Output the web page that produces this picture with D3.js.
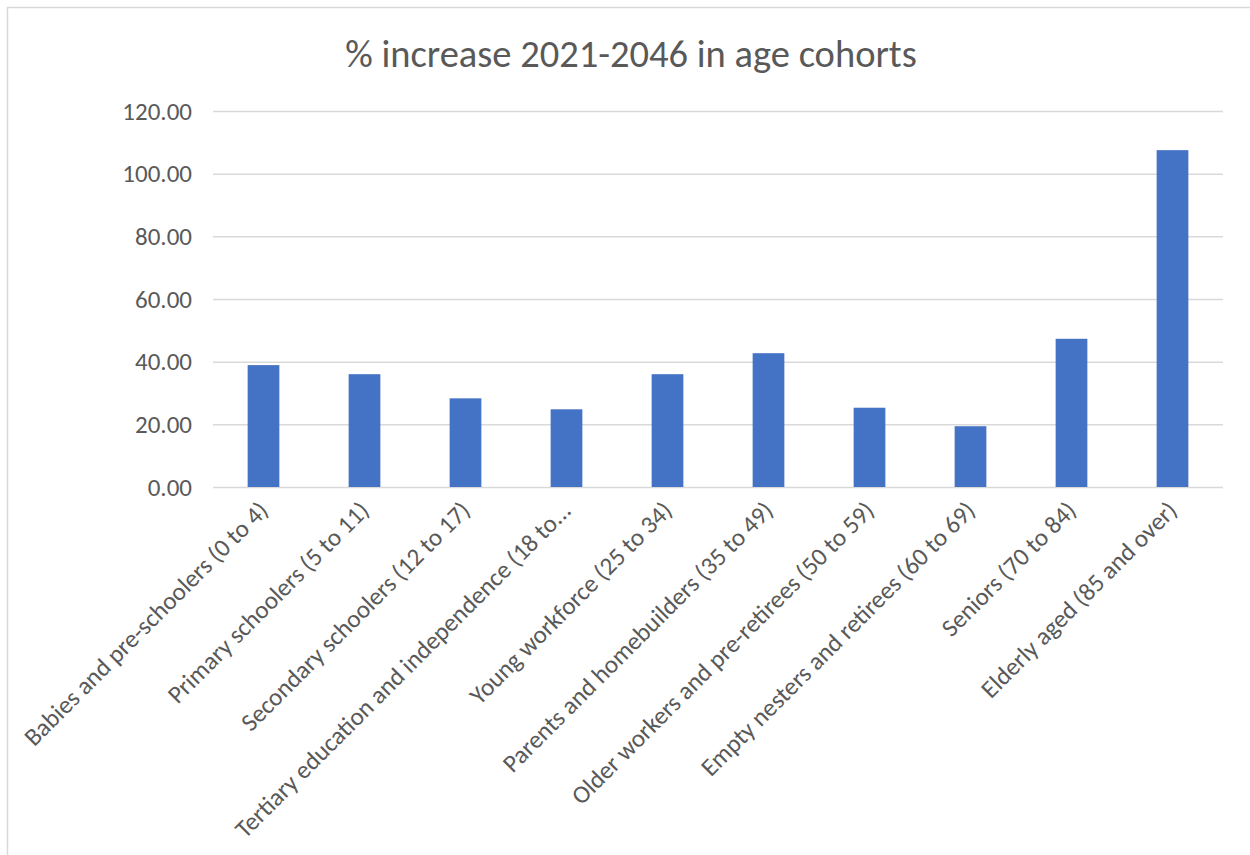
<!DOCTYPE html>
<html>
<head>
<meta charset="utf-8">
<script src="https://cdn.jsdelivr.net/npm/d3@7"></script>
<style>
	body { margin: 0; background: #fff; }
	svg text { font-family: Calibri, Carlito, Lato, sans-serif; fill: #595959; }
</style>
</head>
<body>
<svg id="chart"></svg>
<script>
const width = 1250;
const height = 855;

const chartTitle = "% increase 2021-2046 in age cohorts";

const categories = [
	"Babies and pre-schoolers (0 to 4)",
	"Primary schoolers (5 to 11)",
	"Secondary schoolers (12 to 17)",
	"Tertiary education and independence (18 to...",
	"Young workforce (25 to 34)",
	"Parents and homebuilders (35 to 49)",
	"Older workers and pre-retirees (50 to 59)",
	"Empty nesters and retirees (60 to 69)",
	"Seniors (70 to 84)",
	"Elderly aged (85 and over)",
];

const increases = [38.9, 36.0, 28.3, 24.8, 36.0, 42.7, 25.3, 19.4, 47.3, 107.5];

const yTicks = [0, 20, 40, 60, 80, 100, 120];

// plot area
const margin = { top: 111, right: 27, bottom: 368, left: 213 };
const plotRight = width - margin.right;
const plotBottom = height - margin.bottom;

const svg = d3.select("#chart").attr("width", width).attr("height", height);

// chart frame (only top and left edges are inside the picture)
svg.append("path")
	.attr("d", `M7.5,${height} V7.5 H${width}`)
	.attr("fill", "none")
	.attr("stroke", "#d9d9d9")
	.attr("stroke-width", 1.5);

const x = d3.scaleBand()
	.domain(categories)
	.range([margin.left, plotRight])
	.paddingInner(0.686)
	.paddingOuter(0.343);

const y = d3.scaleLinear()
	.domain([0, 120])
	.range([plotBottom, margin.top]);

// gridlines + y labels
const yAxis = svg.append("g")
	.attr("transform", `translate(${margin.left},0)`)
	.call(d3.axisLeft(y).tickValues(yTicks).tickFormat(d3.format(".2f"))
		.tickSize(-(plotRight - margin.left)).tickPadding(21));
yAxis.select(".domain").remove();
yAxis.selectAll(".tick line").attr("stroke", "#d9d9d9").attr("stroke-width", 1.5);
yAxis.selectAll(".tick text")
	.attr("font-size", 25)
	.attr("fill", "#595959")
	.attr("font-family", "Calibri, Carlito, Lato, sans-serif");

// bars
svg.append("g")
	.selectAll("rect")
	.data(increases)
	.join("rect")
	.attr("x", (d, i) => x(categories[i]))
	.attr("y", (d) => y(d))
	.attr("width", x.bandwidth())
	.attr("height", (d) => y(0) - y(d))
	.attr("fill", "#4472c4");

// category labels, rotated
svg.append("g")
	.selectAll("text")
	.data(categories)
	.join("text")
	.attr("transform", (d) => `translate(${x(d) + x.bandwidth() / 2 + 6},${plotBottom + 25}) rotate(-45)`)
	.attr("text-anchor", "end")
	.attr("font-size", 25)
	.text((d) => d);

// title
svg.append("text")
	.attr("x", 631)
	.attr("y", 67)
	.attr("text-anchor", "middle")
	.attr("font-size", 38.5)
	.text(chartTitle);
</script>
</body>
</html>
